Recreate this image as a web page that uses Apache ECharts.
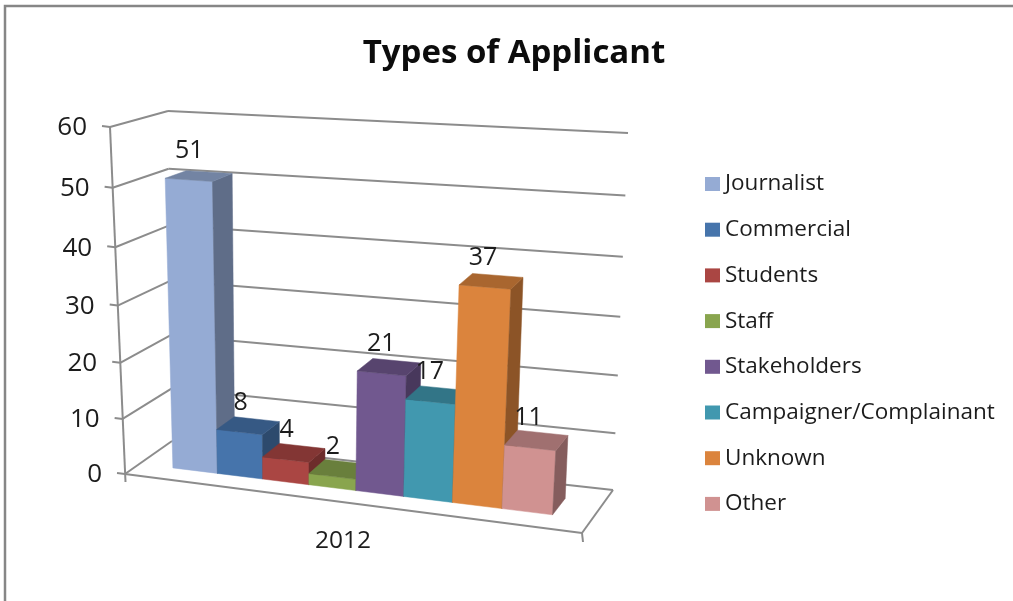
<!DOCTYPE html>
<html>
<head>
<meta charset="utf-8">
<title>Types of Applicant</title>
<script src="https://cdn.jsdelivr.net/npm/echarts@6/dist/echarts.min.js"></script>
<style>
  html, body { margin: 0; padding: 0; background: #fff; }
  #chart { width: 1013px; height: 601px; }
</style>
</head>
<body>
<div id="chart"></div>
<script>
// Applicant counts for 2012
const years = ['2012'];
const applicantTypes = ['Journalist', 'Commercial', 'Students', 'Staff', 'Stakeholders', 'Campaigner/Complainant', 'Unknown', 'Other'];
const applicantCounts = [51, 8, 4, 2, 21, 17, 37, 11];
const typeColors = ['#95abd4', '#4674ab', '#aa4643', '#89a54e', '#71588f', '#4198af', '#db843d', '#d09291'];
const valueTicks = [0, 10, 20, 30, 40, 50, 60];

const FONT = '"Open Sans", "Noto Sans", sans-serif';
const AXIS_GREY = '#8c8c8c';
const TEXT = '#1c1c1c';

// Corners of the box the chart stands in, as seen on screen
const box = {
  floor: { fl: [125, 474], fr: [582, 533], bl: [172, 441], br: [613, 490] },
  roof:  { fl: [110, 127], fr: [606, 158], bl: [168, 111], br: [628, 133] }
};
const BAR_FRONT = 0.31, BAR_BACK = 0.70;   // depth occupied by the bars
const GAP_RATIO = 0.76;                    // side gap relative to one bar width

// Foreshortening along an axis of the box
const warp = (t, k) => t / (t + k * (1 - t));
const lerp = (a, b, t) => [a[0] + (b[0] - a[0]) * t, a[1] + (b[1] - a[1]) * t];
const plane = (q, u, w) => lerp(lerp(q.fl, q.fr, u), lerp(q.bl, q.br, u), w);

// u: along the categories, t: share of the value axis, w: depth
function project(u, t, w) {
  const uu = warp(u, 1.09);
  return lerp(plane(box.floor, uu, w), plane(box.roof, uu, w), warp(t, 1.06));
}
function axisShare(params, api, value) {
  const rect = params.coordSys;
  return (rect.y + rect.height - api.coord([0, value])[1]) / rect.height;
}
function shade(hex, f) {
  const n = parseInt(hex.slice(1), 16);
  const c = [n >> 16, (n >> 8) & 255, n & 255].map(v => Math.round(v * f));
  return 'rgb(' + c.join(',') + ')';
}
const barWidth = 1 / (applicantTypes.length + 2 * GAP_RATIO);
const barStart = i => barWidth * (GAP_RATIO + i);

// One 3D column: front, side and top faces
function renderBar(index, color) {
  return function (params, api) {
    const t = axisShare(params, api, api.value(1));
    const u0 = barStart(index), u1 = u0 + barWidth;
    const p = project;
    const face = (pts, fill) => ({
      type: 'polygon', shape: { points: pts },
      style: { fill: fill, stroke: fill, lineWidth: 0.5 }
    });
    return {
      type: 'group',
      children: [
        face([p(u0, 0, BAR_FRONT), p(u1, 0, BAR_FRONT), p(u1, t, BAR_FRONT), p(u0, t, BAR_FRONT)], color),
        face([p(u1, 0, BAR_FRONT), p(u1, 0, BAR_BACK), p(u1, t, BAR_BACK), p(u1, t, BAR_FRONT)], shade(color, 0.64)),
        face([p(u0, t, BAR_FRONT), p(u1, t, BAR_FRONT), p(u1, t, BAR_BACK), p(u0, t, BAR_BACK)], shade(color, 0.77))
      ]
    };
  };
}

// Walls, floor, ticks and value labels of the box
function renderFrame(params, api) {
  const line = (a, b) => ({
    type: 'line', shape: { x1: a[0], y1: a[1], x2: b[0], y2: b[1] },
    style: { stroke: AXIS_GREY, lineWidth: 2 }
  });
  const t = axisShare(params, api, api.value(0));
  const fl = project(0, t, 0), bl = project(0, t, 1), br = project(1, t, 1);
  const children = [
    line(fl, bl), line(bl, br),
    line([fl[0] - 8, fl[1] - 1], fl),
    {
      type: 'text',
      style: {
        text: String(api.value(0)), x: fl[0] - 23, y: fl[1] + 1,
        align: 'right', verticalAlign: 'middle',
        fill: TEXT, font: '26px ' + FONT
      }
    }
  ];
  if (api.value(0) === 0) {
    const fr = project(1, 0, 0);
    const top = project(0, 1, 0);
    children.push(line(fl, fr), line(fr, br), line(top, [fl[0] + 0.5, fl[1] + 8]), line(fr, [fr[0] + 1, fr[1] + 9]));
  }
  return { type: 'group', children: children };
}

// Value printed above each column
function renderValueLabel(params, api) {
  const i = api.value(0);
  const t = axisShare(params, api, api.value(1));
  const corner = project(barStart(i), t, BAR_FRONT);
  return {
    type: 'text',
    style: {
      text: String(api.value(1)), x: corner[0] + 24, y: corner[1] - 27,
      align: 'center', verticalAlign: 'middle',
      fill: TEXT, font: '25px ' + FONT
    }
  };
}

const barSeries = applicantTypes.map((name, i) => ({
  name: name,
  type: 'custom',
  clip: false,
  silent: true,
  z: 3,
  itemStyle: { color: typeColors[i] },
  renderItem: renderBar(i, typeColors[i]),
  encode: { x: 0, y: 1 },
  data: [[0, applicantCounts[i]]]
}));

const chart = echarts.init(document.getElementById('chart'), null, { renderer: 'canvas' });
chart.setOption({
  animation: false,
  backgroundColor: '#ffffff',
  title: {
    text: 'Types of Applicant',
    left: 509, top: 32, textAlign: 'center',
    textStyle: { fontFamily: FONT, fontSize: 33, fontWeight: 'bold', color: '#0c0c0c' }
  },
  graphic: [{
    type: 'rect', silent: true, z: 0,
    shape: { x: 5, y: 6, width: 1100, height: 700 },
    style: { fill: 'none', stroke: '#868686', lineWidth: 2.5 }
  }],
  grid: { left: 125, top: 127, width: 436, height: 347 },
  xAxis: {
    type: 'category', data: years,
    axisLine: { show: false }, axisTick: { show: false },
    axisLabel: { margin: 55, fontFamily: FONT, fontSize: 24.5, color: TEXT }
  },
  yAxis: {
    type: 'value', min: 0, max: 60, interval: 10,
    axisLine: { show: false }, axisTick: { show: false },
    axisLabel: { show: false }, splitLine: { show: false }
  },
  legend: {
    orient: 'vertical', left: 705, top: 170, padding: 0, icon: 'rect',
    itemWidth: 15, itemHeight: 14, itemGap: 17.7,
    selectedMode: false,
    data: applicantTypes,
    textStyle: { fontFamily: FONT, fontSize: 22.5, color: TEXT, lineHeight: 28 }
  },
  series: [
    {
      name: 'frame', type: 'custom', clip: false, silent: true, z: 1,
      renderItem: renderFrame,
      encode: { y: 0 },
      data: valueTicks.map(v => [v])
    }
  ].concat(barSeries, [
    {
      name: 'values', type: 'custom', clip: false, silent: true, z: 5,
      renderItem: renderValueLabel,
      encode: { y: 1 },
      data: applicantCounts.map((v, i) => [i, v])
    }
  ])
});
</script>
</body>
</html>
